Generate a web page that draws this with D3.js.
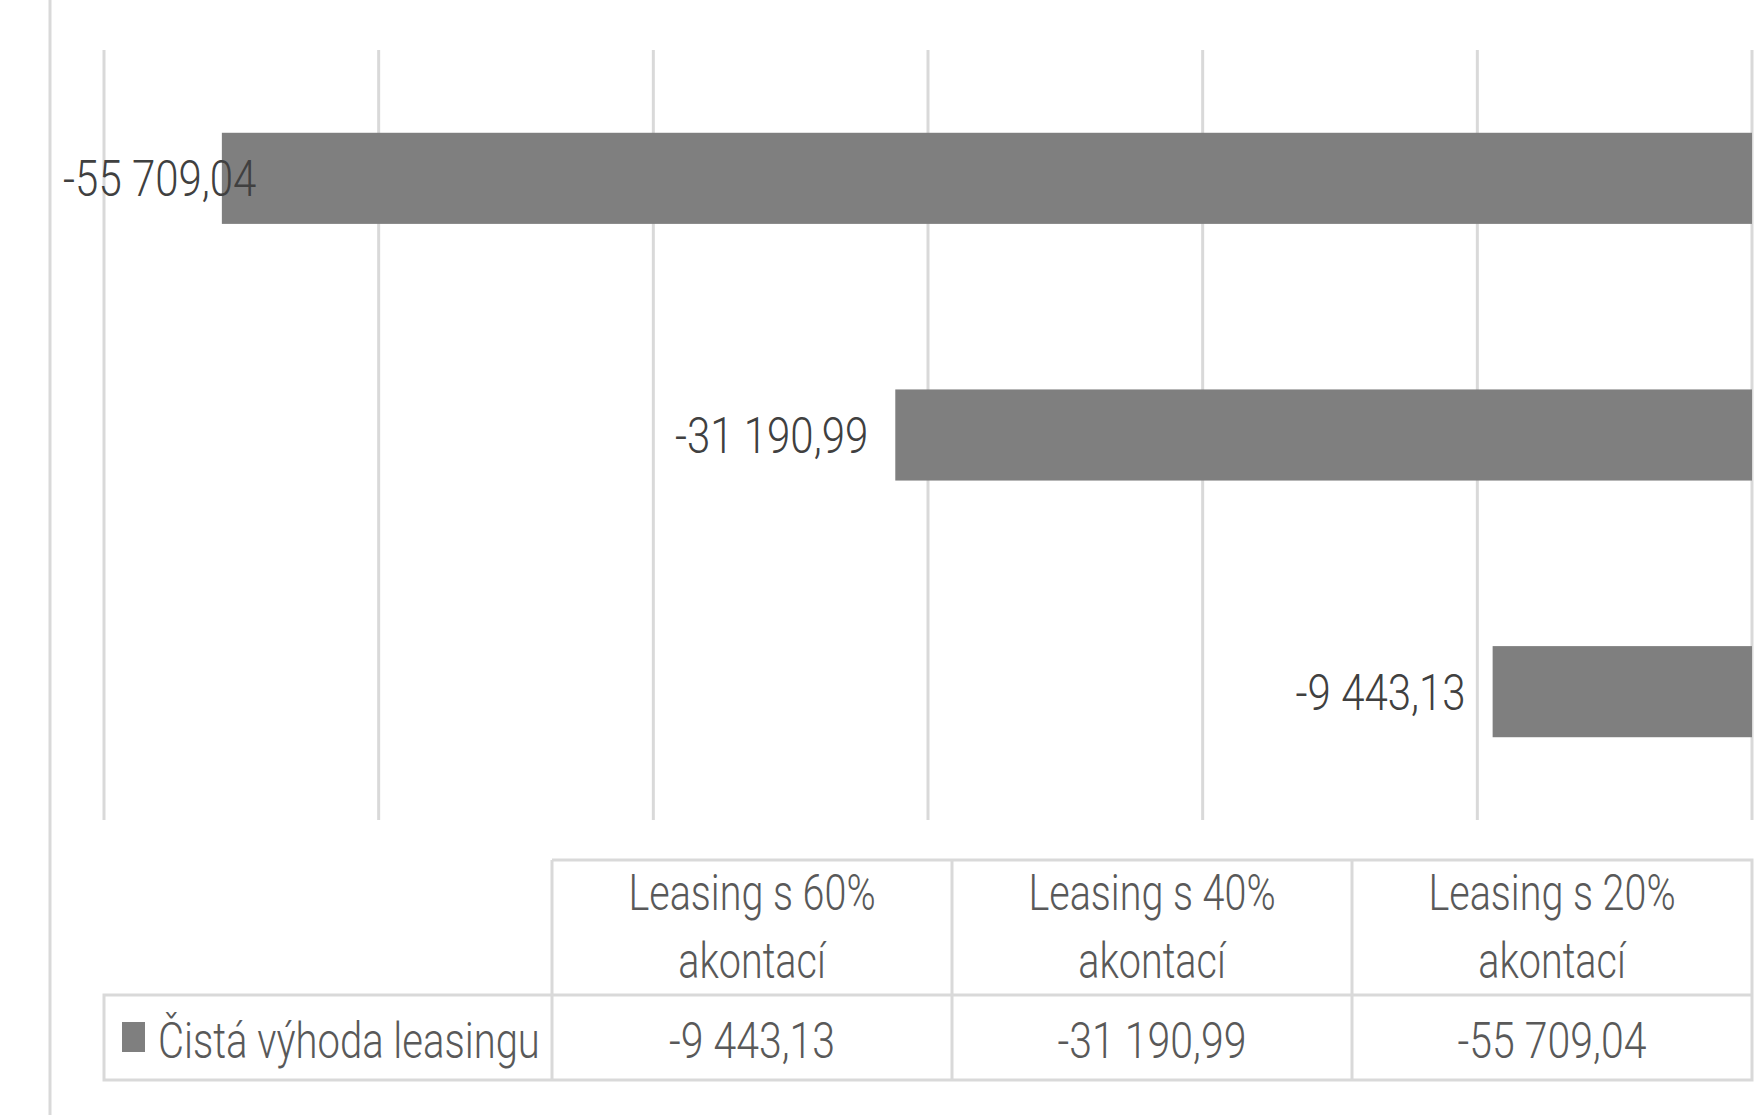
<!DOCTYPE html>
<html>
<head>
<meta charset="utf-8">
<script src="https://cdn.jsdelivr.net/npm/d3@7"></script>
<style>
  html, body { margin: 0; padding: 0; background: #fff; }
  svg { display: block; }
  text { font-family: Roboto, "Liberation Sans Narrow", sans-serif; font-weight: 300; }
</style>
</head>
<body>
<div id="chart"></div>
<script>
// categories in data-table order (first one sits at the bottom of the bar chart)
const categories = ['Leasing s 60% akontací', 'Leasing s 40% akontací', 'Leasing s 20% akontací'];
const categoryLines = [['Leasing s 60%', 'akontací'], ['Leasing s 40%', 'akontací'], ['Leasing s 20%', 'akontací']];
const values = [-9443.13, -31190.99, -55709.04];
const seriesName = 'Čistá výhoda leasingu';
const xDomain = [-60000, 0];

const width = 1754;
const height = 1115;
const margin = { top: 50, right: 2, bottom: 295, left: 104 };
const SX = 0.8; // horizontal squeeze of the text, the source render is narrow
const fontSize = 50;
const labelSX = 0.84;

const czFormat = d3.formatLocale({
  decimal: ',', thousands: ' ', grouping: [3], currency: ['', ''], minus: '-',
}).format(',.2f');

const svg = d3.select('#chart')
  .append('svg')
  .attr('width', width)
  .attr('height', height);

svg.append('rect').attr('width', width).attr('height', height).attr('fill', '#fff');

// chart border, only the left edge is inside the picture
svg.append('line')
  .attr('x1', 50).attr('x2', 50)
  .attr('y1', 0).attr('y2', height)
  .attr('stroke', '#d9d9d9')
  .attr('stroke-width', 3);

const x = d3.scaleLinear()
  .domain(xDomain)
  .range([margin.left, width - margin.right]);

const y = d3.scaleBand()
  .domain(categories.slice().reverse())
  .range([margin.top, height - margin.bottom])
  .paddingInner(0.645)
  .paddingOuter(0.3225);

// grid
svg.append('g')
  .selectAll('line')
  .data(x.ticks(6))
  .join('line')
  .attr('x1', (d) => x(d))
  .attr('x2', (d) => x(d))
  .attr('y1', margin.top)
  .attr('y2', height - margin.bottom)
  .attr('stroke', '#d9d9d9')
  .attr('stroke-width', 3);

// bars
const data = categories.map((c, i) => ({ cat: c, value: values[i] }));

svg.append('g')
  .selectAll('rect')
  .data(data)
  .join('rect')
  .attr('x', (d) => x(d.value))
  .attr('y', (d) => y(d.cat))
  .attr('width', (d) => x(0) - x(d.value))
  .attr('height', y.bandwidth())
  .attr('fill', '#7f7f7f');

const placeText = (sel, tx, ty, sx = SX) => sel.attr('transform', `translate(${tx},${ty}) scale(${sx},1)`);

// data labels, to the left of each bar, kept inside the chart
const labelMinX = 63;
svg.append('g')
  .selectAll('text')
  .data(data)
  .join('text')
  .attr('font-size', fontSize)
  .attr('fill', '#404040')
  .attr('text-anchor', 'end')
  .text((d) => czFormat(d.value))
  .each(function (d) {
    const w = this.getComputedTextLength() * labelSX;
    let tx = x(d.value) - 27;
    if (tx - w < labelMinX) tx = labelMinX + w;
    placeText(d3.select(this), tx, y(d.cat) + y.bandwidth() / 2 + 18, labelSX);
  });

// data table
const tableTop = 860;
const tableMid = 995;
const tableBottom = 1080;
const legendRight = 552;
const col = d3.scaleBand()
  .domain(categories)
  .range([legendRight, width - margin.right]);

const table = svg.append('g')
  .attr('fill', 'none')
  .attr('stroke', '#d9d9d9')
  .attr('stroke-width', 3);

table.append('path')
  .attr('d', `M${legendRight},${tableTop}H${width - margin.right}V${tableBottom}H${margin.left}V${tableMid}H${width - margin.right}`);

table.selectAll('.vline')
  .data(categories)
  .join('line')
  .attr('class', 'vline')
  .attr('x1', (d) => col(d))
  .attr('x2', (d) => col(d))
  .attr('y1', tableTop)
  .attr('y2', tableBottom);

const headers = svg.append('g')
  .selectAll('g')
  .data(categories)
  .join('g');

headers.each(function (d, i) {
  const g = d3.select(this);
  categoryLines[i].forEach((line, k) => {
    g.append('text')
      .attr('font-size', fontSize)
      .attr('fill', '#595959')
      .attr('text-anchor', 'middle')
      .text(line)
      .call(placeText, col(d) + col.bandwidth() / 2, 910 + k * 68, 0.79);
  });
});

svg.append('g')
  .selectAll('text')
  .data(data)
  .join('text')
  .attr('font-size', fontSize)
  .attr('fill', '#595959')
  .attr('text-anchor', 'middle')
  .text((d) => czFormat(d.value))
  .each(function (d) {
    placeText(d3.select(this), col(d.cat) + col.bandwidth() / 2, 1058, 0.82);
  });

// legend key inside the table
svg.append('rect')
  .attr('x', 122)
  .attr('y', 1022)
  .attr('width', 23)
  .attr('height', 30)
  .attr('fill', '#7f7f7f');

svg.append('text')
  .attr('font-size', fontSize)
  .attr('fill', '#595959')
  .text(seriesName)
  .call(placeText, 158, 1058);
</script>
</body>
</html>
